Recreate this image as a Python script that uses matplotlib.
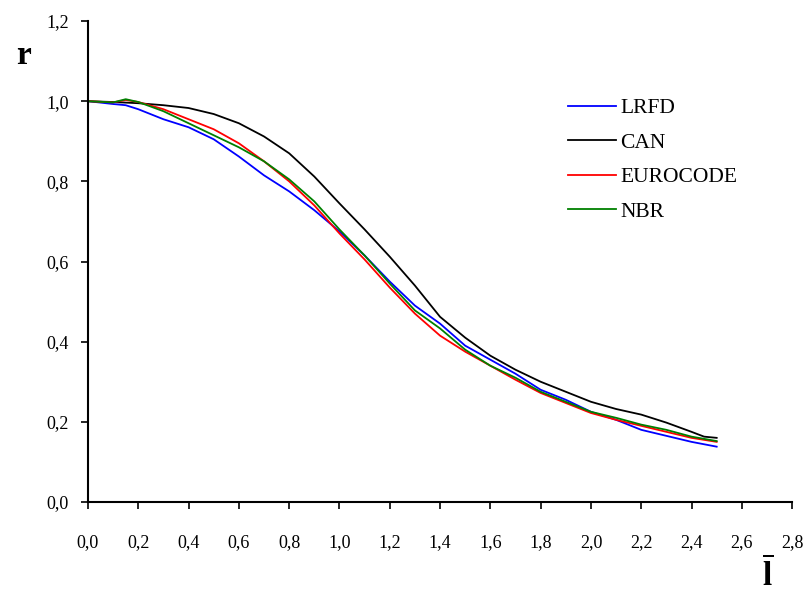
import matplotlib
matplotlib.use("Agg")
import matplotlib.pyplot as plt
from matplotlib.ticker import FuncFormatter

plt.rcParams["font.family"] = ["Liberation Serif", "DejaVu Serif"]
plt.rcParams["mathtext.fontset"] = "custom"
plt.rcParams["mathtext.bf"] = "Liberation Serif:bold"
plt.rcParams["mathtext.rm"] = "Liberation Serif"

# slenderness values for each series
x_lrfd = [0.0, 0.1, 0.15, 0.2, 0.3, 0.4, 0.5, 0.6, 0.7, 0.8, 0.9, 1.0, 1.1, 1.2,
          1.3, 1.4, 1.5, 1.6, 1.7, 1.8, 1.9, 2.0, 2.1, 2.2, 2.3, 2.4, 2.5]
r_lrfd = [1.000, 0.993, 0.990, 0.980, 0.955, 0.935, 0.905, 0.862, 0.815, 0.775,
          0.728, 0.675, 0.615, 0.550, 0.490, 0.445, 0.390, 0.355, 0.320, 0.280,
          0.255, 0.225, 0.205, 0.180, 0.165, 0.150, 0.138]

x_can = [0.0, 0.1, 0.2, 0.3, 0.4, 0.5, 0.6, 0.7, 0.8, 0.9, 1.0, 1.1, 1.2, 1.3,
         1.4, 1.5, 1.6, 1.7, 1.8, 1.9, 2.0, 2.1, 2.2, 2.3, 2.4, 2.45, 2.5]
r_can = [1.000, 0.998, 0.995, 0.990, 0.983, 0.968, 0.945, 0.912, 0.870, 0.812,
         0.745, 0.680, 0.612, 0.540, 0.462, 0.410, 0.365, 0.330, 0.300, 0.275,
         0.250, 0.232, 0.218, 0.198, 0.175, 0.163, 0.160]

x_euro = [0.0, 0.1, 0.15, 0.2, 0.3, 0.4, 0.5, 0.6, 0.7, 0.8, 0.9, 1.0, 1.1, 1.2,
          1.3, 1.4, 1.5, 1.6, 1.7, 1.8, 1.9, 2.0, 2.1, 2.2, 2.3, 2.4, 2.5]
r_euro = [1.000, 0.997, 1.003, 0.998, 0.980, 0.955, 0.930, 0.895, 0.850, 0.800,
          0.740, 0.670, 0.605, 0.535, 0.470, 0.415, 0.375, 0.340, 0.305, 0.272,
          0.247, 0.222, 0.205, 0.190, 0.175, 0.160, 0.150]

x_nbr = [0.0, 0.1, 0.15, 0.2, 0.3, 0.4, 0.5, 0.6, 0.7, 0.8, 0.9, 1.0, 1.1, 1.2,
         1.3, 1.4, 1.5, 1.6, 1.7, 1.8, 1.9, 2.0, 2.1, 2.2, 2.3, 2.4, 2.5]
r_nbr = [1.000, 0.997, 1.005, 0.998, 0.975, 0.945, 0.915, 0.885, 0.850, 0.805,
         0.750, 0.680, 0.615, 0.545, 0.478, 0.433, 0.380, 0.340, 0.310, 0.275,
         0.250, 0.225, 0.210, 0.193, 0.180, 0.163, 0.152]

x_ticks = [0.0, 0.2, 0.4, 0.6, 0.8, 1.0, 1.2, 1.4, 1.6, 1.8, 2.0, 2.2, 2.4, 2.6, 2.8]
y_ticks = [0.0, 0.2, 0.4, 0.6, 0.8, 1.0, 1.2]


def comma(v, pos):
    return f"{v:.1f}".replace(".", ",")


fig = plt.figure(figsize=(8.05, 5.93), dpi=100)
ax = fig.add_axes([0.1093, 0.1535, 0.8747, 0.811])

ax.plot(x_lrfd, r_lrfd, color="#0000ff", lw=1.3, label="LRFD")
ax.plot(x_can, r_can, color="black", lw=1.3, label="CAN")
ax.plot(x_euro, r_euro, color="#ff0000", lw=1.3, label="EUROCODE")
ax.plot(x_nbr, r_nbr, color="#008000", lw=1.3, label="NBR")

ax.set_xlim(0, 2.8)
ax.set_ylim(0, 1.2)
ax.set_xticks(x_ticks)
ax.set_yticks(y_ticks)
ax.xaxis.set_major_formatter(FuncFormatter(comma))
ax.yaxis.set_major_formatter(FuncFormatter(comma))
ax.tick_params(direction="out", length=5, width=1.2, labelsize=13)
ax.tick_params(axis="x", pad=18)
ax.tick_params(axis="y", pad=9)
for side in ("top", "right"):
    ax.spines[side].set_visible(False)
for side in ("left", "bottom"):
    ax.spines[side].set_linewidth(1.5)

fig.text(23 / 805, 1 - 55 / 593, "r", fontsize=24, fontweight="bold",
         ha="center", va="center")
fig.text(768 / 805, 1 - 574 / 593, r"$\overline{\mathbf{l}}$", fontsize=24,
         ha="center", va="center")

ax.legend(loc="upper left", bbox_to_anchor=(568 / 805, 1 - 98 / 593),
          bbox_transform=fig.transFigure, frameon=False, fontsize=15.5,
          handlelength=2.25, handletextpad=0.18, labelspacing=0.67,
          borderpad=0, borderaxespad=0)

fig.savefig("out.png", dpi=100)
